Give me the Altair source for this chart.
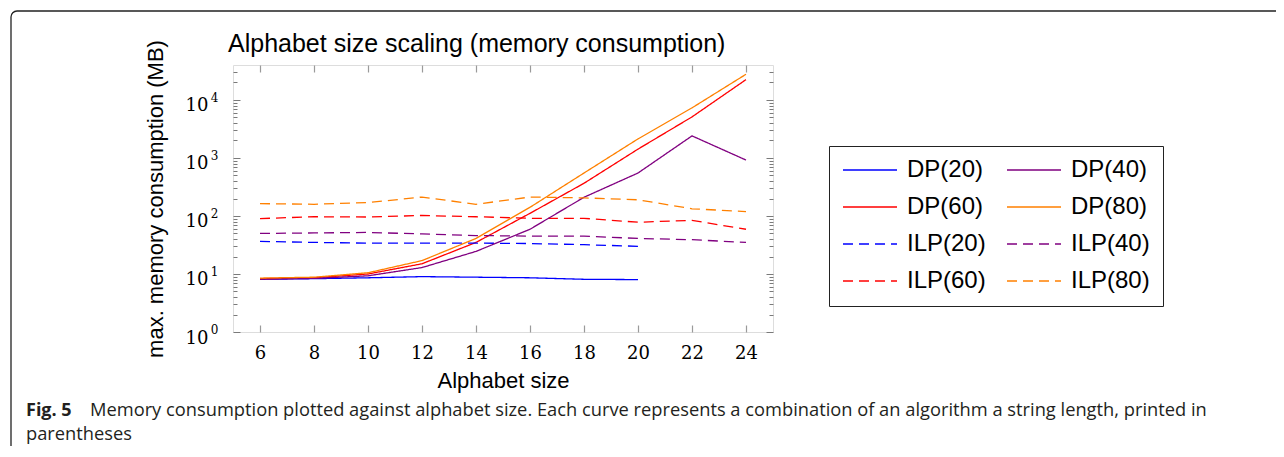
import altair as alt
import pandas as pd

# ---------------- data ----------------
alphabet = [6, 8, 10, 12, 14, 16, 18, 20, 22, 24]
# legend is filled column by column: first column, then second column
series_names = ["DP(20)", "DP(60)", "ILP(20)", "ILP(60)",
                "DP(40)", "DP(80)", "ILP(40)", "ILP(80)"]
dp20 = [8.1, 8.3, 8.6, 9.0, 8.8, 8.6, 8.1, 8.0]
dp40 = [8.1, 8.4, 9.3, 12.9, 24.5, 59, 210, 550, 2400, 920]
dp60 = [8.3, 8.6, 10.0, 15, 35, 111, 366, 1420, 5100, 22400]
dp80 = [8.5, 8.8, 10.5, 17, 41, 141, 550, 2130, 7300, 27700]
ilp20 = [36.5, 35, 34, 34, 34, 33.5, 32, 30]
ilp40 = [50, 51, 52, 49, 46, 45, 45, 41, 39, 35]
ilp60 = [90, 97, 96, 102, 97, 91, 91, 78, 84, 59]
ilp80 = [163, 159, 170, 212, 159, 212, 205, 190, 133, 119]
series_values = [dp20, dp60, ilp20, ilp60, dp40, dp80, ilp40, ilp80]

y_major = [1, 10, 100, 1000, 10000]
y_minor = [m * 10 ** k for k in range(5) for m in range(2, 10) if m * 10 ** k <= 30000]

title_text = "Alphabet size scaling (memory consumption)"
x_title = "Alphabet size"
y_title = "max. memory consumption (MB)"
caption_bold = "Fig. 5"
caption_line1 = ("Memory consumption plotted against alphabet size. Each curve represents a "
                 "combination of an algorithm a string length, printed in")
caption_line2 = "parentheses"

colors = ["#0000ff", "#ff0000", "#0000ff", "#ff0000",
          "#800080", "#ff8000", "#800080", "#ff8000"]
dashes = [[1, 0], [1, 0], [10, 6], [10, 6], [1, 0], [1, 0], [10, 6], [10, 6]]

rows = []
for name, vals in zip(series_names, series_values):
    for a, v in zip(alphabet, vals):
        rows.append({"size": a, "mem": v, "series": name})
df = pd.DataFrame(rows)

# ---------------- scales / axes ----------------
sx = alt.Scale(domain=[5, 25], nice=False, zero=False)
sy = alt.Scale(type="log", domain=[1, 40000], nice=False)

SANS = "Liberation Sans"
SERIF = "DejaVu Serif"
XT = "#9a9a9a"
YT = "#7a7a7a"

ax_bottom = alt.Axis(orient="bottom", values=alphabet, offset=-7, tickSize=7, tickColor=XT,
                     tickWidth=1.2, domain=False, grid=False, labelFont=SERIF, labelFontSize=18,
                     labelColor="black", labelPadding=12, format="d",
                     title=x_title, titleFont=SANS, titleFontSize=22, titleFontWeight="normal",
                     titleColor="black", titleY=55, titleBaseline="middle")
ax_top = alt.Axis(orient="top", values=alphabet, offset=-7, tickSize=7, tickColor=XT,
                  tickWidth=1.2, domain=False, grid=False, labels=False, title=None)
ax_left = alt.Axis(orient="left", values=y_major, offset=-7, tickSize=7, tickColor=YT,
                   domain=False, grid=False, labelExpr="'10'", labelFont=SERIF, labelFontSize=18,
                   labelColor="black", labelPadding=25, labelOffset=6,
                   title=y_title, titleFont=SANS, titleFontSize=22, titleFontWeight="normal",
                   titleColor="black", titleX=-85, titleY=133.5, titleBaseline="middle")
ax_left_exp = alt.Axis(orient="left", values=y_major, ticks=False, domain=False, grid=False,
                       labelExpr=("datum.value==1?'0':datum.value==10?'1':datum.value==100?'2':"
                                  "datum.value==1000?'3':'4'"),
                       labelFont=SERIF, labelFontSize=12, labelColor="black", labelPadding=15,
                       labelOffset=-2.5, title=None)
ax_left_minor = alt.Axis(orient="left", values=y_minor, offset=-4, tickSize=4, tickColor=YT,
                         domain=False, grid=False, labels=False, title=None)
ax_right = alt.Axis(orient="right", values=y_major, offset=-7, tickSize=7, tickColor=YT,
                    domain=False, grid=False, labels=False, title=None)
ax_right_minor = alt.Axis(orient="right", values=y_minor, offset=-4, tickSize=4, tickColor=YT,
                          domain=False, grid=False, labels=False, title=None)

legend = alt.Legend(title=None, orient="none", legendX=596, legendY=81, columns=2,
                    symbolType="stroke", symbolSize=2916, symbolStrokeWidth=1.4,
                    clipHeight=22, rowPadding=13, columnPadding=20, padding=13,
                    labelOffset=9, labelFont=SANS, labelFontSize=24, labelColor="black",
                    strokeColor="#222", fillColor="white", labelLimit=300)

base = alt.Chart(df)

lines = base.mark_line(strokeWidth=1.3).encode(
    x=alt.X("size:Q", scale=sx, axis=ax_bottom),
    y=alt.Y("mem:Q", scale=sy, axis=ax_left),
    color=alt.Color("series:N", scale=alt.Scale(domain=series_names, range=colors), legend=legend),
    strokeDash=alt.StrokeDash("series:N", scale=alt.Scale(domain=series_names, range=dashes),
                              legend=legend),
)

def ghost(xaxis, yaxis):
    return base.mark_point(opacity=0).encode(
        x=alt.X("size:Q", scale=sx, axis=xaxis),
        y=alt.Y("mem:Q", scale=sy, axis=yaxis),
    )

g1 = ghost(ax_top, ax_left_exp)
g2 = ghost(None, ax_left_minor)
g3 = ghost(None, ax_right)
g4 = ghost(None, ax_right_minor)

def text_layer(txt, x, y, size, weight="normal", font="Open Sans", color="#231f20",
               baseline="alphabetic"):
    return alt.Chart(pd.DataFrame({"t": [txt]})).mark_text(
        align="left", baseline=baseline, font=font, fontSize=size, fontWeight=weight,
        color=color).encode(x=alt.value(x), y=alt.value(y), text="t:N")

title_layer = text_layer(title_text, -5, -21, 25, font=SANS, color="black", baseline="middle")
cap_bold = text_layer(caption_bold, -207, 351, 18, weight="bold")
cap_1 = text_layer(caption_line1, -143, 351, 18.3)
cap_2 = text_layer(caption_line2, -207, 375, 18.3)

frame = alt.Chart(pd.DataFrame({"a": [0]})).mark_rect(
    filled=False, stroke="#222", strokeWidth=1.3, cornerRadius=6).encode(
    x=alt.value(-222), x2=alt.value(1100), y=alt.value(-54), y2=alt.value(460))

chart = alt.layer(frame, lines, g1, g2, g3, g4, title_layer, cap_bold, cap_1, cap_2).resolve_axis(
    x="independent", y="independent"
).properties(
    width=540, height=267,
    autosize=alt.AutoSizeParams(type="none"),
    padding={"left": 225, "top": 57, "right": 503, "bottom": 114},
).configure_view(stroke="black", strokeWidth=1.3).configure(background="white")

chart.save("out.html", embed_options={"renderer": "svg", "actions": False})
